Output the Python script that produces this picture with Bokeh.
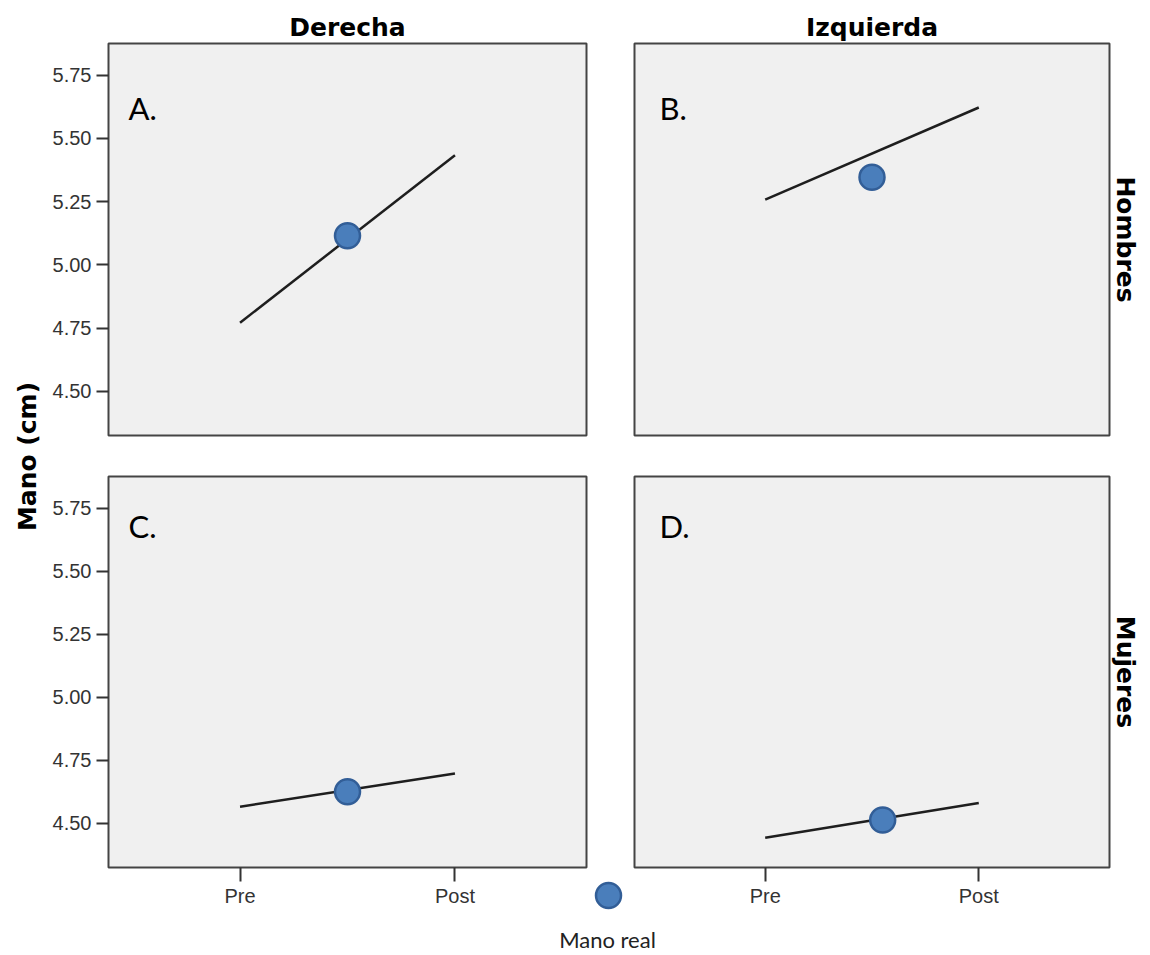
from bokeh.plotting import figure
from bokeh.layouts import row, column
from bokeh.models import FixedTicker, Label, Title
from bokeh.embed import file_html
from bokeh.resources import INLINE

# ---------------- data ----------------
phases = ["Pre", "Post"]
panel_letters = ["A.", "B.", "C.", "D."]
column_titles = ["Derecha", "Izquierda"]
row_titles = ["Hombres", "Mujeres"]
pre_values = [4.771, 5.258, 4.566, 4.443]
post_values = [5.433, 5.622, 4.698, 4.581]
real_values = [5.115, 5.346, 4.625, 4.513]
real_positions = [0.5, 0.5, 0.5, 0.55]
y_ticks = [4.50, 4.75, 5.00, 5.25, 5.50, 5.75]
y_tick_labels = ["4.50", "4.75", "5.00", "5.25", "5.50", "5.75"]
y_title = "Mano (cm)"
legend_label = "Mano real"

# ---------------- styles ----------------
X_RANGE = (-0.612, 1.612)
Y_RANGE = (4.325, 5.875)
PANEL_BG = "#F0F0F0"
FRAME_COL = "#444444"
LINE_COL = "#1e1e1e"
DOT_FILL = "#4A7EBB"
DOT_LINE = "#325E97"
HEAD_FONT = "DejaVu Sans"
TICK_FONT = "Liberation Sans"
LETTER_FONT = "Lato"
DOT_SIZE = 25

x_pos = list(range(len(phases)))


def make_panel(i, width, height, borders, show_x, show_y, top_title=None, right_title=None):
    left, right, top, bottom = borders
    p = figure(width=width, height=height, x_range=X_RANGE, y_range=Y_RANGE,
               x_axis_location="below" if show_x else None,
               y_axis_location="left" if show_y else None,
               toolbar_location=None, output_backend="svg",
               min_border_left=left, min_border_right=right,
               min_border_top=top, min_border_bottom=bottom)
    p.background_fill_color = PANEL_BG
    p.border_fill_color = "white"
    p.outline_line_color = FRAME_COL
    p.outline_line_width = 2
    p.grid.visible = False

    if show_y:
        ax = p.yaxis[0]
        ax.ticker = FixedTicker(ticks=y_ticks)
        ax.major_label_overrides = dict(zip(y_ticks, y_tick_labels))
        ax.axis_line_color = None
        ax.major_tick_out = 12
        ax.major_tick_in = 0
        ax.minor_tick_line_color = None
        ax.major_tick_line_color = "#333333"
        ax.major_tick_line_width = 2
        ax.major_label_standoff = 5
        ax.major_label_text_font = TICK_FONT
        ax.major_label_text_font_size = "20px"
        ax.major_label_text_color = "#333333"
    if show_x:
        ax = p.xaxis[0]
        ax.ticker = FixedTicker(ticks=x_pos)
        ax.major_label_overrides = dict(zip(x_pos, phases))
        ax.axis_line_color = None
        ax.major_tick_out = 14
        ax.major_tick_in = 0
        ax.minor_tick_line_color = None
        ax.major_tick_line_color = "#333333"
        ax.major_tick_line_width = 2
        ax.major_label_standoff = 3
        ax.major_label_text_font = TICK_FONT
        ax.major_label_text_font_size = "20px"
        ax.major_label_text_color = "#333333"

    if top_title is not None:
        t = Title(text=top_title, align="center", text_font=HEAD_FONT,
                  text_font_size="25px", text_font_style="bold",
                  text_color="black", standoff=4)
        p.add_layout(t, "above")
    if right_title is not None:
        t = Title(text=right_title, align="center", text_font=HEAD_FONT,
                  text_font_size="25px", text_font_style="bold",
                  text_color="black", standoff=2)
        p.add_layout(t, "right")

    p.line(x_pos, [pre_values[i], post_values[i]], line_color=LINE_COL, line_width=2.5)
    p.scatter([real_positions[i]], [real_values[i]], size=DOT_SIZE,
              fill_color=DOT_FILL, line_color=DOT_LINE, line_width=2.5)

    # panel letter (top-left corner of the frame)
    px_per_x = (width - left - right) / (X_RANGE[1] - X_RANGE[0])
    px_per_y = (height - top - bottom) / (Y_RANGE[1] - Y_RANGE[0])
    off_x = 20 if i % 2 == 0 else 25
    off_y = 64 if i < 2 else 49
    p.add_layout(Label(x=X_RANGE[0] + off_x / px_per_x,
                       y=Y_RANGE[1] - off_y / px_per_y,
                       text=panel_letters[i], text_font=LETTER_FONT,
                       text_font_size="31px", text_color="black",
                       text_align="left", text_baseline="alphabetic"))
    return p


tl = make_panel(0, 562, 455, (60, 24, 43, 20), False, True, top_title=column_titles[0])
tr = make_panel(1, 532, 455, (24, 31, 43, 20), False, False,
                top_title=column_titles[1], right_title=row_titles[0])
bl = make_panel(2, 562, 457, (60, 24, 21, 45), True, True)
br = make_panel(3, 532, 457, (24, 31, 21, 45), True, False, right_title=row_titles[1])

# legend key (marker above its label), overlaid between the two bottom panels
LEG_W, LEG_H = 130, 78
leg_fig = figure(width=LEG_W, height=LEG_H, x_range=(0, 1), y_range=(0, 1),
                 x_axis_location=None, y_axis_location=None,
                 toolbar_location=None, output_backend="svg",
                 min_border_left=0, min_border_right=0, min_border_top=0, min_border_bottom=0,
                 margin=(-37, 0, 0, 495))
leg_fig.outline_line_color = None
leg_fig.background_fill_alpha = 0
leg_fig.border_fill_alpha = 0
leg_fig.grid.visible = False
leg_fig.scatter([65 / LEG_W], [1 - 20 / LEG_H], size=DOT_SIZE,
                fill_color=DOT_FILL, line_color=DOT_LINE, line_width=2.5)
leg_fig.add_layout(Label(x=64 / LEG_W, y=1 - 64 / LEG_H, text=legend_label,
                         text_font=LETTER_FONT, text_font_size="22px",
                         text_color="#222222", text_align="center",
                         text_baseline="middle"))

# y title strip
TOTAL_H = 455 + 457 - 37 + LEG_H
strip = figure(width=48, height=TOTAL_H, x_range=(0, 1), y_range=(0, 1),
               x_axis_location=None, y_axis_location=None,
               toolbar_location=None, output_backend="svg",
               min_border_left=43, min_border_right=0, min_border_top=0,
               min_border_bottom=TOTAL_H - 2 * 456)
strip.outline_line_color = None
strip.grid.visible = False
strip.add_layout(Title(text=y_title, align="center", text_font=HEAD_FONT,
                       text_font_size="25px", text_font_style="bold",
                       text_color="black", standoff=4), "left")

layout = row(strip, column(row(tl, tr), row(bl, br), leg_fig))

open("out.html", "w").write(file_html(layout, INLINE))
